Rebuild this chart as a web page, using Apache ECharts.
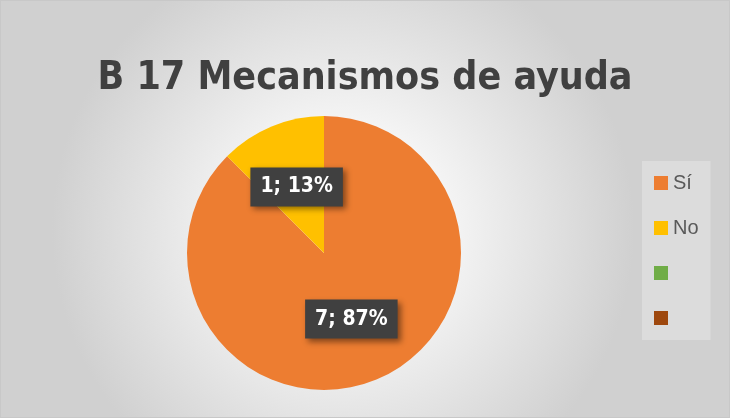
<!DOCTYPE html>
<html>
<head>
<meta charset="utf-8">
<script src="https://cdn.jsdelivr.net/npm/echarts@6/dist/echarts.min.js"></script>
<style>
  html, body { margin: 0; padding: 0; }
  #chart { width: 730px; height: 418px; box-sizing: border-box; border: 1px solid #c8c8c8; }
</style>
</head>
<body>
<div id="chart"></div>
<script>
// categories and values
const categories = ['Sí', 'No', ' ', '  ']
const counts = [7, 1, 0, 0]
// percentages as printed on the labels
const shownPercent = [87, 13, 0, 0]
const colors = ['#ED7D31', '#FFC000', '#70AD47', '#9E480E']

const condensed = "'DejaVu Sans Condensed', 'Liberation Sans', sans-serif"

const chart = echarts.init(document.getElementById('chart'))

const option = {
  backgroundColor: {
    type: 'radial',
    x: 0.47,
    y: 0.55,
    r: 0.7,
    colorStops: [
      { offset: 0, color: '#ffffff' },
      { offset: 0.25, color: '#fbfbfb' },
      { offset: 1, color: '#d0d0d0' }
    ]
  },
  color: colors,
  title: {
    text: 'B 17 Mecanismos de ayuda',
    left: 'center',
    top: 53,
    textStyle: {
      fontFamily: condensed,
      fontWeight: 'bold',
      fontSize: 39,
      color: '#404040'
    }
  },
  legend: {
    orient: 'vertical',
    left: 641,
    top: 160,
    padding: [12, 12, 12, 12],
    itemWidth: 14,
    itemHeight: 14,
    itemGap: 25,
    icon: 'rect',
    backgroundColor: 'rgba(255,255,255,0.25)',
    textStyle: {
      fontFamily: "'Liberation Sans', sans-serif",
      fontSize: 20,
      lineHeight: 20,
      color: '#595959'
    },
    data: categories
  },
  series: [{
    type: 'pie',
    center: [323, 252],
    radius: [0, 137],
    startAngle: 90,
    clockwise: true,
    silent: true,
    label: {
      position: 'inside',
      formatter: function (p) {
        return p.value + '; ' + shownPercent[p.dataIndex] + '%'
      },
      fontFamily: condensed,
      fontWeight: 'bold',
      fontSize: 21,
      color: '#ffffff',
      backgroundColor: '#404040',
      padding: [10, 10, 8, 10],
      shadowColor: 'rgba(0,0,0,0.45)',
      shadowBlur: 6,
      shadowOffsetX: 3,
      shadowOffsetY: 3
    },
    labelLine: { show: false },
    data: categories.map(function (name, i) {
      const item = { name: name, value: counts[i] }
      if (counts[i] === 0) item.label = { show: false }
      return item
    })
  }]
}

chart.setOption(option)
</script>
</body>
</html>
